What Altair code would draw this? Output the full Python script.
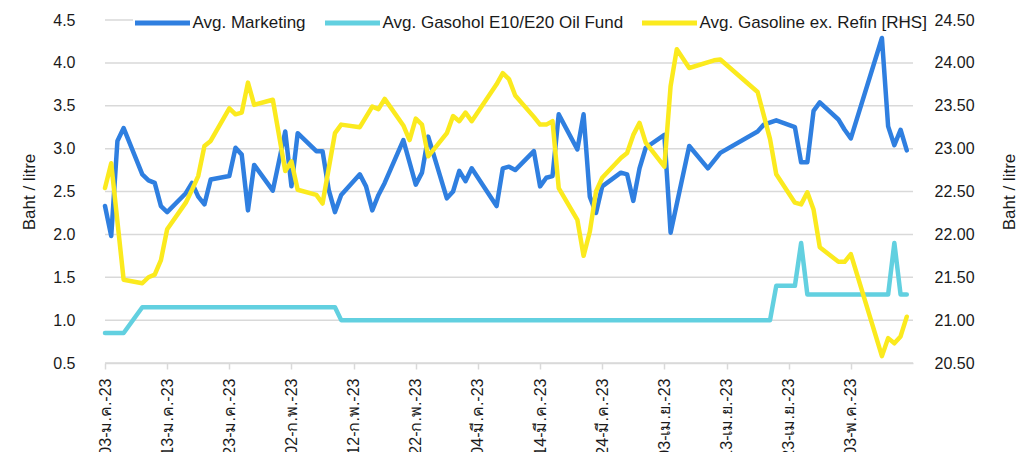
import altair as alt
import pandas as pd

start = "2023-01-03"

# business-day offsets from 3 Jan 2023 and values
blue_day = [0, 1, 2, 3, 6, 7, 8, 9, 10, 13, 14, 15, 16, 17, 20, 21, 22, 23, 24, 27, 29, 30, 31,
            34, 35, 36, 37, 38, 41, 42, 43, 44, 45, 48, 50, 51, 52, 55, 56, 57, 58, 59, 63, 64,
            65, 66, 69, 70, 71, 72, 73, 76, 77, 78, 79, 80, 83, 84, 85, 86, 87, 90, 91, 94, 97,
            99, 105, 106, 108, 111, 112, 113, 114, 115, 118, 119, 120, 125, 126, 127, 128, 129]
blue_val = [2.33, 1.98, 3.09, 3.24, 2.70, 2.63, 2.60, 2.33, 2.26, 2.48, 2.60, 2.44, 2.35, 2.64,
            2.68, 3.01, 2.93, 2.28, 2.81, 2.51, 3.20, 2.56, 3.18, 2.97, 2.97, 2.52, 2.26, 2.46,
            2.70, 2.56, 2.28, 2.46, 2.60, 3.10, 2.58, 2.72, 3.14, 2.42, 2.50, 2.74, 2.62, 2.77,
            2.33, 2.77, 2.79, 2.75, 2.97, 2.56, 2.66, 2.68, 3.40, 2.99, 3.40, 2.44, 2.25, 2.56,
            2.72, 2.70, 2.39, 2.77, 3.01, 3.16, 2.02, 3.03, 2.77, 2.95, 3.20, 3.28, 3.33, 3.25,
            2.84, 2.84, 3.44, 3.54, 3.34, 3.22, 3.12, 4.29, 3.26, 3.04, 3.22, 2.98]

cyan_day = [0, 3, 6, 37, 38, 107, 108, 111, 112, 113, 126, 127, 128, 129]
cyan_val = [0.85, 0.85, 1.15, 1.15, 1.00, 1.00, 1.40, 1.40, 1.90, 1.30, 1.30, 1.90, 1.30, 1.30]

yellow_day = [0, 1, 3, 6, 7, 8, 9, 10, 13, 14, 15, 16, 17, 20, 21, 22, 23, 24, 27, 29, 30, 31,
              34, 35, 37, 38, 41, 43, 44, 45, 48, 49, 50, 51, 52, 55, 56, 57, 58, 59, 63, 64,
              65, 66, 69, 70, 71, 72, 73, 76, 77, 78, 79, 80, 83, 84, 85, 86, 87, 90, 91, 92,
              94, 98, 99, 105, 107, 108, 111, 112, 113, 114, 115, 118, 119, 120, 125, 126, 127,
              128, 129]
yellow_val = [22.54, 22.83, 21.47, 21.43, 21.50, 21.53, 21.70, 22.06, 22.37, 22.52, 22.68, 23.03,
              23.09, 23.47, 23.40, 23.42, 23.77, 23.51, 23.57, 22.74, 22.85, 22.52, 22.46, 22.36,
              23.18, 23.28, 23.25, 23.49, 23.46, 23.58, 23.27, 23.10, 23.35, 23.28, 22.91, 23.18,
              23.38, 23.32, 23.42, 23.32, 23.75, 23.88, 23.81, 23.62, 23.37, 23.28, 23.28, 23.32,
              22.54, 22.17, 21.75, 22.03, 22.50, 22.66, 22.89, 22.95, 23.16, 23.30, 23.07, 22.79,
              23.73, 24.16, 23.94, 24.03, 24.04, 23.66, 23.11, 22.70, 22.37, 22.35, 22.49, 22.29,
              21.85, 21.68, 21.68, 21.77, 20.58, 20.79, 20.73, 20.81, 21.04]

series = ["Avg. Marketing", "Avg. Gasohol E10/E20 Oil Fund", "Avg. Gasoline ex. Refin [RHS]"]
colors = ["#2F7FE0", "#62D0E0", "#FBEA1E"]
thai_months = ["ม.ค.", "ก.พ.", "มี.ค.", "เม.ย.", "พ.ค."]
tick_days = [0, 10, 20, 30, 40, 50, 60, 70, 80, 90, 100, 110, 120]
left_ticks = [0.5, 1.0, 1.5, 2.0, 2.5, 3.0, 3.5, 4.0, 4.5]
right_ticks = [20.5, 21.0, 21.5, 22.0, 22.5, 23.0, 23.5, 24.0, 24.5]
axis_title = "Baht / litre"


def to_dates(days):
    return [(pd.Timestamp(start) + pd.Timedelta(days=d)).strftime("%Y/%m/%d") for d in days]


def to_dt(d):
    t = pd.Timestamp(start) + pd.Timedelta(days=d)
    return alt.DateTime(year=t.year, month=t.month, date=t.day)


left_df = pd.concat([
    pd.DataFrame({"date": to_dates(blue_day), "value": blue_val, "series": series[0]}),
    pd.DataFrame({"date": to_dates(cyan_day), "value": cyan_val, "series": series[1]}),
])
right_df = pd.DataFrame({"date": to_dates(yellow_day), "value": yellow_val, "series": series[2]})

FONT = "Liberation Sans"
TXT = "#1a1a1a"
GRID = "#d9d9d9"
LEFT_DOMAIN = [0.5, 4.5]

month_arr = "[" + ",".join("'" + m + "'" for m in thai_months) + "]"
label_expr = ("timeFormat(datum.value, '%d') + '-' + " + month_arr +
              "[month(datum.value)] + '-' + timeFormat(datum.value, '%y')")

x_enc = alt.X(
    "date:T",
    scale=alt.Scale(domain=[to_dt(0), to_dt(130)]),
    axis=alt.Axis(
        values=[to_dt(d) for d in tick_days], labelExpr=label_expr, title=None, grid=False,
        domainColor=GRID, domainWidth=1.5, tickColor=GRID, tickWidth=1.5, tickSize=6,
        labelAngle=270, labelAlign="right", labelBaseline="middle", labelPadding=9,
        labelFont=FONT, labelFontSize=16, labelColor=TXT, labelOverlap=False,
    ),
)

color_enc = alt.Color(
    "series:N",
    scale=alt.Scale(domain=series, range=colors),
    legend=alt.Legend(
        orient="none", legendX=25.5, legendY=-29, direction="horizontal", title=None,
        symbolType="stroke", symbolSize=3025, symbolStrokeWidth=5,
        labelFont=FONT, labelFontSize=17, labelColor=TXT, labelOffset=0, labelLimit=500,
        columnPadding=8, padding=2,
    ),
)

# horizontal gridlines at the left-axis tick values
grid = alt.Chart(pd.DataFrame({"g": left_ticks})).mark_rule(color=GRID, strokeWidth=1.5).encode(
    y=alt.Y("g:Q", scale=alt.Scale(domain=LEFT_DOMAIN, nice=False, zero=False), axis=None)
)

# white band hiding the top gridline behind the legend
mask = alt.Chart(pd.DataFrame({"k": [0]})).mark_rule(color="white", strokeWidth=4).encode(
    x=alt.value(28), x2=alt.value(793), y=alt.value(0)
)

left = alt.Chart(left_df).mark_line(strokeWidth=4.5, strokeCap="round", strokeJoin="round").encode(
    x=x_enc,
    y=alt.Y(
        "value:Q",
        scale=alt.Scale(domain=LEFT_DOMAIN, nice=False, zero=False),
        axis=alt.Axis(
            orient="left", values=left_ticks, format=".1f", grid=False,
            domain=False, ticks=True, tickSize=28, tickOpacity=0, labelPadding=2,
            labelFont=FONT, labelFontSize=16,
            labelColor=TXT, title=axis_title, titleFont=FONT, titleFontSize=17,
            titleFontWeight="normal", titleColor=TXT, titleX=-76, titleY=171.5,
            titleAngle=270, titleAlign="center", titleBaseline="middle",
        ),
    ),
    color=color_enc,
)

right = alt.Chart(right_df).mark_line(strokeWidth=4.5, strokeCap="round", strokeJoin="round").encode(
    x=x_enc,
    y=alt.Y(
        "value:Q",
        scale=alt.Scale(domain=[20.5, 24.5], nice=False, zero=False),
        axis=alt.Axis(
            orient="right", values=right_ticks, format=".2f", grid=False, domain=False,
            ticks=True, tickSize=19, tickOpacity=0, labelPadding=2,
            labelFont=FONT, labelFontSize=16, labelColor=TXT,
            title=axis_title, titleFont=FONT, titleFontSize=17, titleFontWeight="normal",
            titleColor=TXT, titleX=96, titleY=171.5, titleAngle=270, titleAlign="center",
            titleBaseline="middle",
        ),
    ),
    color=color_enc,
)

chart = alt.layer(grid, mask, left, right).resolve_scale(y="independent").properties(
    width=808,
    height=343,
    autosize=alt.AutoSizeParams(type="none"),
    padding={"left": 97, "top": 12, "right": 110, "bottom": 89},
    background="white",
).configure_view(stroke=None)

chart.save("out.html", embed_options={"renderer": "svg", "actions": False})
